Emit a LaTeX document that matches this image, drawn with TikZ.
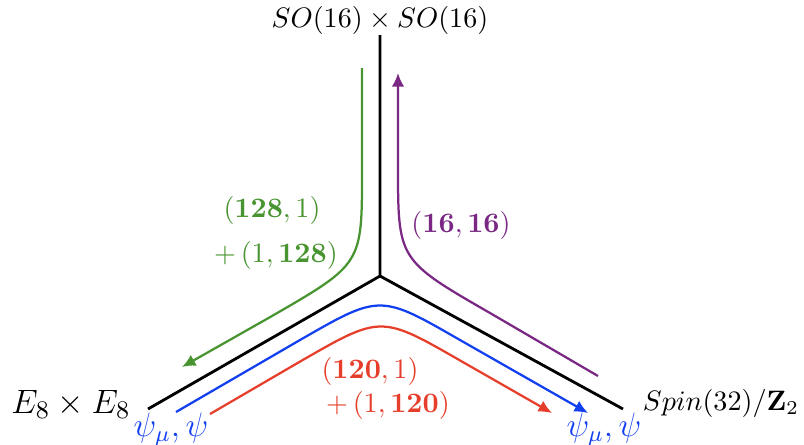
\documentclass[tikz,border=0pt]{standalone}
\usepackage{amsmath,amssymb}
\usepackage{xcolor}
\usetikzlibrary{arrows.meta}

\definecolor{repgreen}{RGB}{72,148,48}
\definecolor{repblue}{RGB}{18,64,240}
\definecolor{repred}{RGB}{230,62,42}
\definecolor{reppurple}{RGB}{122,40,132}

\tikzset{
  brane/.style={line width=1pt,black},
  flow/.style={line width=0.8pt,-{Latex[length=4.8pt,width=4.4pt]}},
  rep/.style={inner sep=0pt}
}

\begin{document}
\begin{tikzpicture}[x=0.0125cm,y=-0.0125cm]
    \useasboundingbox (0,0) rectangle (804,444);
    % the three branches
    \coordinate (o) at (380,276);
    \coordinate (top) at (380,35);
    \coordinate (lft) at (148,409);
    \coordinate (rgt) at (623,409);
    \draw[brane] (top) -- (o) -- (lft);
    \draw[brane] (o) -- (rgt);
    \node[rep] (so) at (380,20) {$SO(16)\times SO(16)$};
    \node[rep,anchor=east,font=\fontsize{13}{16}\selectfont] (ee) at (131,404) {$E_8\times E_8$};
    \node[rep] (spin) at (721,403) {$Spin(32)/\mathbf{Z}_2$};

    % green: from top to left
    \coordinate (g0) at (362,68);
    \coordinate (g1) at (362,172);
    \coordinate (g2) at (272,316);
    \coordinate (g3) at (182,367);
    \draw[flow,repgreen] (g0) -- (g1) .. controls (362,264) and (362,264) .. (g2) -- (g3);
    \node[rep,repgreen] (g128a) at (272,210) {$(\mathbf{128},1)$};
    \node[rep,repgreen] (g128b) at (276,255) {$+\,(1,\mathbf{128})$};

    % purple: from right to top
    \coordinate (p0) at (598,376);
    \coordinate (p1) at (490,313);
    \coordinate (p2) at (398,166);
    \coordinate (p3) at (398,73);
    \draw[flow,reppurple] (p0) -- (p1) .. controls (398,260) and (398,260) .. (p2) -- (p3);
    \node[rep,reppurple] (p16) at (461,225) {$(\mathbf{16},\mathbf{16})$};

    % blue: from left to right
    \coordinate (b0) at (176,412);
    \coordinate (b1) at (300,340);
    \coordinate (b2) at (460,340);
    \coordinate (b3) at (588,413);
    \draw[flow,repblue] (b0) -- (b1) .. controls (380,294) and (380,294) .. (b2) -- (b3);
    \node[rep,repblue] (psil) at (171,429) {\large $\psi_\mu,\psi$};
    \node[rep,repblue] (psir) at (604,429) {\large $\psi_\mu,\psi$};

    % red: from left to right
    \coordinate (r0) at (210,414);
    \coordinate (r1) at (301,361);
    \coordinate (r2) at (461,361);
    \coordinate (r3) at (552,413);
    \draw[flow,repred] (r0) -- (r1) .. controls (381,315) and (381,315) .. (r2) -- (r3);
    \node[rep,repred] (r120a) at (370,371) {$(\mathbf{120},1)$};
    \node[rep,repred] (r120b) at (388,405) {$+\,(1,\mathbf{120})$};
  \end{tikzpicture}
\end{document}
